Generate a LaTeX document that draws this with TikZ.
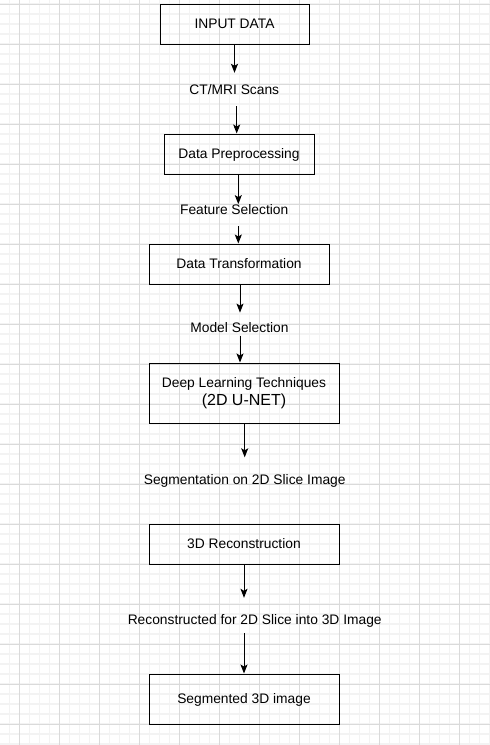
\documentclass[tikz,border=0pt]{standalone}
\usepackage{fontspec}
\setmainfont{Liberation Sans}
\usetikzlibrary{arrows.meta,calc}
\definecolor{gridmaj}{RGB}{218,218,218}
\definecolor{gridmin}{RGB}{243,243,243}

\begin{document}
\begin{tikzpicture}[x=1pt,y=-1pt,font=\fontsize{13.8}{16}\selectfont,
  box/.style={draw,line width=1pt,inner sep=0},
  oneline/.style={text height=9.9pt,text depth=0pt},
  lbl/.style={inner sep=0,text height=10pt,text depth=3pt,anchor=base},
  arr/.style={-{Stealth[length=9pt,width=7pt,inset=2pt]},line width=1pt}]
\useasboundingbox(0,0)rectangle(490,745);
\fill[white](0,0)rectangle(490,745);
% grid
\foreach\i in{0,...,48}\draw[gridmin,line width=1.4pt](9.5+10*\i,0)--(9.5+10*\i,745);
\foreach\j in{0,...,74}\draw[gridmin,line width=1.4pt](0,4+10*\j)--(490,4+10*\j);
\foreach\i in{0,...,11}\draw[gridmaj,line width=1pt](19.5+40*\i,0)--(19.5+40*\i,745);
\foreach\j in{0,...,18}\draw[gridmaj,line width=1pt](0,4+40*\j)--(490,4+40*\j);
% boxes
\node[box,oneline,minimum width=149pt,minimum height=40pt](input)at(234.5,24){INPUT DATA};
\node[box,oneline,minimum width=150pt,minimum height=40pt](prep)at(239,154){Data Preprocessing};
\node[box,oneline,minimum width=180pt,minimum height=40pt](trans)at(239,264){Data Transformation};
\node[box,align=center,minimum width=190pt,minimum height=60pt](dl)at(244,393){Deep Learning Techniques\\[2.7pt]{\fontsize{16}{16}\selectfont(2D U-NET)}};
\node[box,oneline,minimum width=190pt,minimum height=40pt](rec3d)at(244,544){3D Reconstruction};
\node[box,oneline,minimum width=190pt,minimum height=50pt](seg3d)at(244,699){Segmented 3D image};
% labels
\node[lbl](ct)at(234.3,94){CT/MRI Scans};
\node[lbl](feat)at(234.2,214.3){Feature Selection};
\node[lbl](model)at(239.5,332.3){Model Selection};
\node[lbl](seg)at(244.7,484){Segmentation on 2D Slice Image};
\node[lbl](rtext)at(254.7,624){Reconstructed for 2D Slice into 3D Image};
% arrows
\draw[arr](input.south)--($(input.south |- ct.north)+(0,-11)$);
\draw[arr]($(prep.north |- ct.south)+(-2.3,9)$)--($(prep.north)+(-2.3,0)$);
\draw[arr]($(prep.south)+(-.7,0)$)--($(prep.south |- feat.north)+(-.7,0)$);
\draw[arr]($(trans.north |- feat.south)+(-.7,8.7)$)--($(trans.north)+(-.7,0)$);
\draw[arr]($(trans.south)+(1,0)$)--($(trans.south |- model.north)+(1,-9.5)$);
\draw[arr]($(dl.north |- model.south)+(-4,0)$)--($(dl.north)+(-4,0)$);
\draw[arr]($(dl.south)+(.7,0)$)--($(dl.south |- seg.north)+(.7,-16.5)$);
\draw[arr](rec3d.south)--($(rec3d.south |- rtext.north)+(0,-16)$);
\draw[arr]($(seg3d.north |- rtext.south)+(0,5.7)$)--(seg3d.north);
\end{tikzpicture}
\end{document}
